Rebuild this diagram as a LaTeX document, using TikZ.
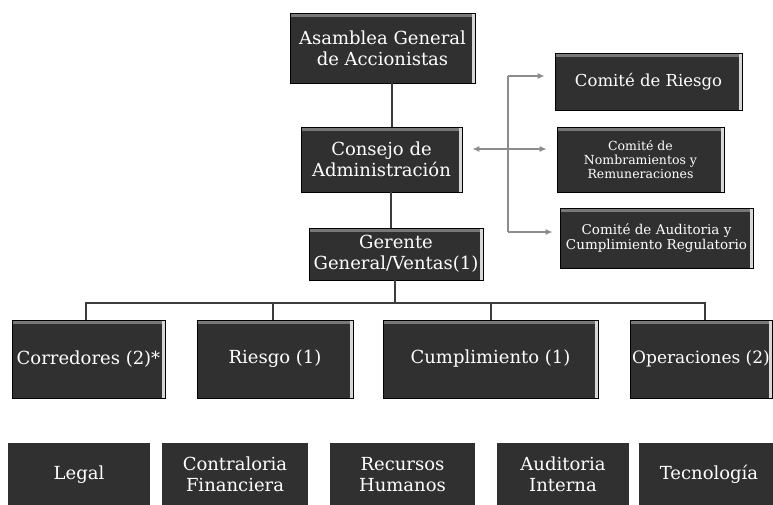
\documentclass[tikz,border=0pt]{standalone}
\usepackage{fontspec}
\setmainfont{DejaVu Serif}
\usetikzlibrary{calc,arrows.meta}
\definecolor{boxfill}{RGB}{48,48,48}
\definecolor{boxtop}{RGB}{120,120,120}
\definecolor{boxedge}{RGB}{215,215,215}
\definecolor{linec}{RGB}{60,60,60}
\definecolor{arrc}{RGB}{140,140,140}
\tikzset{
  orgbox/.style={fill=boxfill, draw=black, line width=0.6pt, text=white, align=center, inner sep=0pt,
    path picture={
      \fill[boxtop] (path picture bounding box.north west) rectangle ([yshift=-4pt]path picture bounding box.north east);
      \fill[boxedge] ([xshift=-3pt]path picture bounding box.north east) rectangle (path picture bounding box.south east);
    }},
  flatbox/.style={fill=boxfill, draw=none, text=white, align=center, inner sep=0pt,
    minimum height=63pt, font=\fontsize{18}{21}\selectfont},
  orgline/.style={draw=linec, line width=1.6pt},
  grayarr/.style={draw=arrc, line width=1.4pt, arrows={-{Latex[length=7pt,width=6pt]}}},
  fsbig/.style={font=\fontsize{18}{21}\selectfont},
  fsope/.style={font=\fontsize{17}{20}\selectfont},
  fsmid/.style={font=\fontsize{16.5}{19}\selectfont},
  fsca/.style={font=\fontsize{13.5}{15.5}\selectfont},
  fssmall/.style={font=\fontsize{12.5}{14}\selectfont},
}
\begin{document}
\begin{tikzpicture}[x=1pt,y=-1pt]
\useasboundingbox (0,0) rectangle (773,504);
\fill[white] (0,0) rectangle (773,504);

% top chain
\node[orgbox,fsbig,minimum width=185pt,minimum height=70pt] (asam) at (382.5,48) {Asamblea General\\de Accionistas};
\node[orgbox,fsbig,minimum width=161pt,minimum height=65pt] (cons) at (381.5,159.5) {Consejo de\\Administración};
\node[orgbox,fsbig,minimum width=174pt,minimum height=52pt] (ger) at (396,254) {Gerente\\General/Ventas(1)};

% committees
\node[orgbox,fsmid,minimum width=187pt,minimum height=57pt] (cr) at (648.5,81.5) {Comité de Riesgo};
\node[orgbox,fssmall,minimum width=167pt,minimum height=65pt] (cn) at (640.5,159.5) {Comité de\\Nombramientos y\\Remuneraciones};
\node[orgbox,fsca,minimum width=193pt,minimum height=60pt] (ca) at (656.5,238) {Comité de Auditoria y\\Cumplimiento Regulatorio};

% second row
\node[orgbox,fsbig,minimum width=153pt,minimum height=78pt] (cor) at (88.5,359) {Corredores (2)*};
\node[orgbox,fsbig,minimum width=156pt,minimum height=78pt] (rie) at (275,359) {Riesgo (1)};
\node[orgbox,fsbig,minimum width=215pt,minimum height=78pt] (cum) at (490.5,359) {Cumplimiento (1)};
\node[orgbox,fsope,minimum width=142pt,minimum height=78pt] (ope) at (701,359) {Operaciones (2)};

% third row
\node[flatbox,minimum width=142pt] (leg) at (79,474.5) {Legal};
\node[flatbox,minimum width=146pt] (con) at (235,474.5) {Contraloria\\Financiera};
\node[flatbox,minimum width=145pt] (rh) at (402.5,474.5) {Recursos\\Humanos};
\node[flatbox,minimum width=132pt] (aud) at (563,474.5) {Auditoria\\Interna};
\node[flatbox,minimum width=140pt] (tec) at (709,474.5) {Tecnología};

% connectors
\coordinate (c1) at ($(asam.south)+(9.5,0)$);
\draw[orgline] (c1) -- (c1 |- cons.north);
\coordinate (c2) at ($(cons.south)+(9.5,0)$);
\draw[orgline] (c2) -- (c2 |- ger.north);
\coordinate (bus) at (0,303);
\coordinate (c3) at ($(ger.south)+(-1,0)$);
\draw[orgline] (c3) -- (c3 |- bus);
\coordinate (c4) at ($(cor.north)+(-2.5,0)$);
\coordinate (c6) at ($(ope.north)+(4,0)$);
\draw[orgline] (c4) |- (bus -| c6) -- (c6);
\coordinate (c5) at ($(rie.north)+(-2,0)$);
\draw[orgline] (c5) -- (c5 |- bus);
\coordinate (c7) at ($(cum.north)+(0.5,0)$);
\draw[orgline] (c7) -- (c7 |- bus);

% committee arrows
\coordinate (jt) at (508,76);
\coordinate (jm) at (508,149);
\coordinate (jb) at (508,232);
\coordinate (al) at ($(cons.east |- jm)+(10,0)$);
\coordinate (ar) at ($(cn.west |- jm)+(-10,0)$);
\coordinate (at) at ($(cr.west |- jt)+(-10,0)$);
\coordinate (ab) at ($(ca.west |- jb)+(-7,0)$);
\draw[draw=arrc, line width=1.4pt] (jt) -- (jb);
\draw[grayarr, arrows={{Latex[length=7pt,width=6pt]}-{Latex[length=7pt,width=6pt]}}] (al) -- (ar);
\draw[grayarr] (jt) -- (at);
\draw[grayarr] (jb) -- (ab);
\end{tikzpicture}
\end{document}
